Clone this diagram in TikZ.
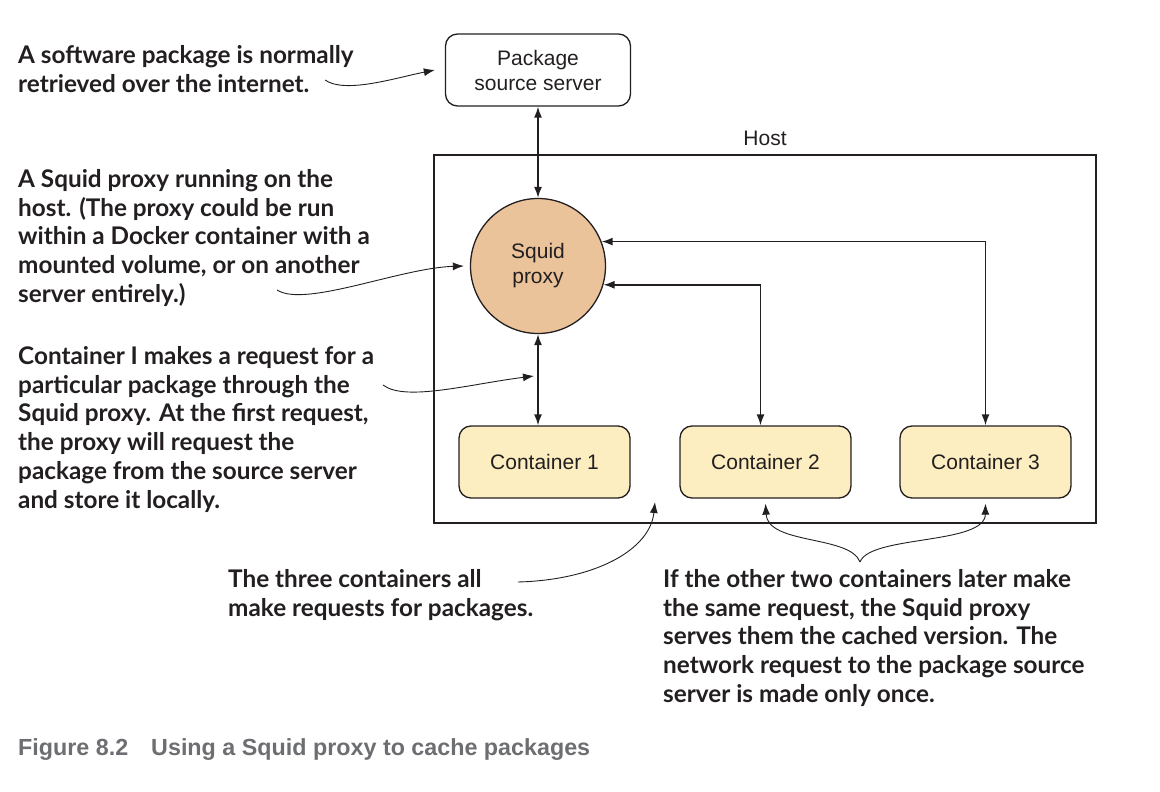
\documentclass[tikz,border=0pt]{standalone}
\usepackage{fontspec}
\usetikzlibrary{arrows.meta}
\newfontfamily\notefont{Lato}
\newfontfamily\boxfont{Liberation Sans}
\definecolor{proxyfill}{HTML}{EBC39B}
\definecolor{boxfill}{HTML}{FCEEC1}
\definecolor{ink}{HTML}{231F20}
\definecolor{capgray}{HTML}{6D6E71}
\tikzset{
  box/.style={draw=ink, line width=1.3pt, rounded corners=12pt, minimum width=171pt, minimum height=72pt,
    font=\boxfont\fontsize{21}{25}\selectfont, text=ink, align=center, inner sep=0pt},
  note/.style={anchor=north west, inner sep=0pt, align=left, text=ink,
    font=\notefont\bfseries\fontsize{24.3}{28.8}\selectfont},
  link/.style={draw=ink, line width=1.5pt, {Latex[length=11pt,width=8pt]}-{Latex[length=11pt,width=8pt]}},
  hint/.style={draw=ink, line width=0.9pt, -{Latex[length=11pt,width=8pt]}}
}

\begin{document}
\begin{tikzpicture}[x=1pt,y=-1pt]
  \useasboundingbox (0,0) rectangle (1160,792);
  % server, host and proxy
  \node[box, minimum width=185pt] (server) at (538,70) {Package\\source server};
  \node[draw=ink, line width=1.3pt, minimum width=662pt, minimum height=368pt] (host) at (765,339) {};
  \node[font=\boxfont\fontsize{21}{25}\selectfont, text=ink] (hostlbl) at (765,138) {Host};
  \node[circle, draw=ink, line width=1.3pt, fill=proxyfill, minimum size=135pt, align=center,
    font=\boxfont\fontsize{21}{25}\selectfont, text=ink] (proxy) at (538,266) {Squid\\proxy};
  % containers
  \node[box, fill=boxfill] (c1) at (544.5,462) {Container 1};
  \node[box, fill=boxfill] (c2) at (765.5,462) {Container 2};
  \node[box, fill=boxfill] (c3) at (985.5,462) {Container 3};
  \draw[link] (server.south) -- (proxy.north);
  \draw[link] (proxy.south) -- (proxy.south |- c1.north);
  \draw[link] (proxy.-16) -| ([xshift=-5pt]c2.north);
  \draw[link] (proxy.21) -| (c3.north);
  % notes
  \node[note] (n1) at (18,45) {A software package is normally\\retrieved over the internet.};
  \node[note] (n2) at (18,169) {A Squid proxy running on the\\host. (The proxy could be run\\within a Docker container with a\\mounted volume, or on another\\server entirely.)};
  \node[note] (n3) at (18,346) {Container I makes a request for a\\particular package through the\\Squid proxy. At the first request,\\the proxy will request the\\package from the source server\\and store it locally.};
  \node[note] (n4) at (228,569) {The three containers all\\make requests for packages.};
  \node[note] (n5) at (663,569) {If the other two containers later make\\the same request, the Squid proxy\\serves them the cached version. The\\network request to the package source\\server is made only once.};
  \coordinate (t1) at (325,80);
  \coordinate (t2) at (277,290);
  \coordinate (t3) at (383,385);
  \coordinate (t4) at (518,582);
  \coordinate (t5) at (860,562);
  \coordinate (c1in) at (534,376);
  \coordinate (hostin) at (655,502);
  \draw[hint] (t1) .. controls (345,94) and (395,78) .. ([xshift=-10pt]server.west);
  \draw[hint] (t2) .. controls (305,308) and (400,268) .. ([xshift=-6pt]proxy.west);
  \draw[hint] (t3) .. controls (405,402) and (470,384) .. (c1in);
  \draw[hint] (t4) .. controls (595,580) and (650,550) .. (hostin);
  \draw[hint] (t5) .. controls (850,535) and (768,545) .. ([yshift=-5pt]c2.south);
  \draw[hint] (t5) .. controls (870,535) and (985,545) .. ([yshift=-5pt]c3.south);
  % caption
  \node[anchor=west, inner sep=0pt, text=capgray, font=\boxfont\bfseries\fontsize{23.3}{27}\selectfont] (cap) at (18,750)
    {Figure 8.2\hspace{23pt}Using a Squid proxy to cache packages};
\end{tikzpicture}
\end{document}
